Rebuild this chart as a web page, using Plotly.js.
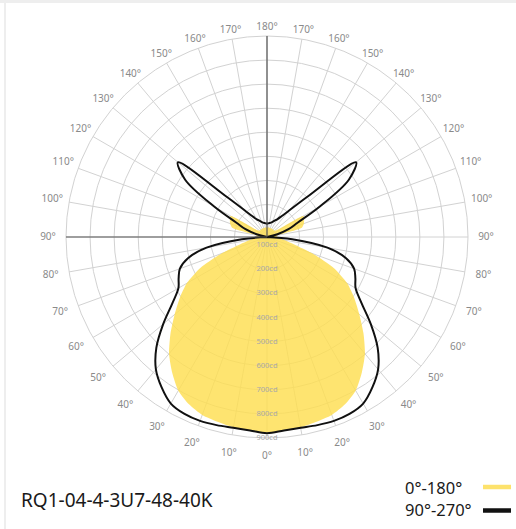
<!DOCTYPE html>
<html>
<head>
<meta charset="utf-8">
<script src="https://cdn.plot.ly/plotly-3.0.1.min.js"></script>
<style>
html,body{margin:0;padding:0;background:#fff;}
#chart{width:516px;height:529px;}
</style>
</head>
<body>
<div id="chart"></div>
<script>
// ---- data (gamma angle in degrees, luminous intensity in cd) ----
const gammaDeg = [0,5,10,15,20,25,30,35,40,45,50,55,60,65,70,75,80,85,90,95,100,105,110,115,120,125,130,135,140,145,150,155,160,165,170,175,180];
const cdPlane0_180 = [878,874,868,860,852,832,802,752,698,632,566,508,450,372,270,180,140,110,105,105,110,215,228,235,240,115,105,105,105,105,105,105,105,105,105,105,105];
const cdPlane90_270 = [880,872,870,874,878,876,864,828,783,715,628,545,490,470,450,405,320,170,60,20,60,110,160,205,320,480,548,300,210,170,150,140,132,127,124,122,120];

const seriesNames = ['0°-180°', '90°-270°'];
const seriesColors = ['#FDE26C', '#111111'];
const chartTitle = 'RQ1-04-4-3U7-48-40K';

const angleTickVals = [0,10,20,30,40,50,60,70,80,90,100,110,120,130,140,150,160,170,180,190,200,210,220,230,240,250,260,270,280,290,300,310,320,330,340,350];
const angleTickText = ['0°','10°','20°','30°','40°','50°','60°','70°','80°','90°','100°','110°','120°','130°','140°','150°','160°','170°','180°','170°','160°','150°','140°','130°','120°','110°','100°','90°','80°','70°','60°','50°','40°','30°','20°','10°'];
const radialTickVals = [100,200,300,400,500,600,700,800,900];
const radialTickText = ['100cd','200cd','300cd','400cd','500cd','600cd','700cd','800cd','900cd'];
const radialRange = [65, 900];

// mirror a half plane (gamma 0..180) onto both sides of the diagram
function mirrorTheta(g){ return g.concat(g.slice().reverse().map(v => 360 - v)); }
function mirrorR(v){ return v.concat(v.slice().reverse()); }

const W = 516, H = 529;
const cx = 267, cy = 237, R = 201, RL = 230;
const domFor = rad => ({x:[(cx-rad)/W,(cx+rad)/W], y:[(H-cy-rad)/H,(H-cy+rad)/H]});

// angular label placement in a pixel-scaled helper subplot (style only)
const labelPx = angleTickVals.map(t => {
  const p = t * Math.PI / 180;
  return 214.5 + 4.5 * Math.sin(p) * Math.sin(p) + 5 * Math.cos(p);
});

const traces = [
  {
    type:'scatterpolar', subplot:'polar', name:seriesNames[0], showlegend:false,
    theta: mirrorTheta(gammaDeg), r: mirrorR(cdPlane0_180),
    mode:'lines', fill:'toself', fillcolor:'rgba(254,222,80,0.82)',
    line:{width:0, color:'rgba(0,0,0,0)', shape:'spline', smoothing:0.6}, hoverinfo:'skip'
  },
  {
    type:'scatterpolar', subplot:'polar', name:seriesNames[1], showlegend:false,
    theta: mirrorTheta(gammaDeg), r: mirrorR(cdPlane90_270),
    mode:'lines', line:{width:2, color:seriesColors[1], shape:'spline', smoothing:1}, hoverinfo:'skip'
  },
  {
    type:'scatterpolar', subplot:'polar2', showlegend:false, mode:'text',
    r: radialTickVals, theta: radialTickVals.map(() => 0), text: radialTickText,
    textfont:{size:7.5, color:'#a8a8a8', family:'Noto Sans'}, textposition:'middle center', hoverinfo:'skip'
  },
  {
    type:'scatterpolar', subplot:'polar3', showlegend:false, mode:'text', cliponaxis:false,
    r: labelPx, theta: angleTickVals, text: angleTickText,
    textfont:{size:10, color:'#8a8a8a', family:'Noto Sans'}, textposition:'middle center', hoverinfo:'skip'
  }
];

const gridC = '#d2d2d2';
const hiddenAng = {visible:false, rotation:-90, direction:'counterclockwise'};
const layout = {
  width:W, height:H, margin:{l:0,r:0,t:0,b:0},
  paper_bgcolor:'#fff', font:{family:'Noto Sans', color:'#222'},
  showlegend:false,
  polar:{
    domain:domFor(R), bgcolor:'rgba(0,0,0,0)',
    angularaxis:{rotation:-90, direction:'counterclockwise', tickmode:'array', tickvals:angleTickVals, ticktext:angleTickText,
      showgrid:true, gridcolor:gridC, gridwidth:1, showline:true, linecolor:gridC, linewidth:1,
      ticks:'', showticklabels:false, layer:'above traces'},
    radialaxis:{range:radialRange, angle:90, tickmode:'array', tickvals:radialTickVals, ticktext:radialTickText,
      showticklabels:false, ticks:'', showgrid:true, gridcolor:gridC, gridwidth:1,
      showline:true, linecolor:'#555', linewidth:1.2, layer:'above traces'}
  },
  polar2:{
    domain:domFor(R), bgcolor:'rgba(0,0,0,0)',
    angularaxis:hiddenAng,
    radialaxis:{range:radialRange, angle:180, showline:true, linecolor:'#555', linewidth:1.2, showgrid:false, showticklabels:false, ticks:''}
  },
  polar3:{
    domain:domFor(RL), bgcolor:'rgba(0,0,0,0)',
    angularaxis:hiddenAng,
    radialaxis:{visible:false, range:[0, RL]}
  },
  annotations:[
    {xref:'paper', yref:'paper', x:19/W, y:(H-500)/H, xanchor:'left', yanchor:'middle', showarrow:false, text:chartTitle, font:{size:19, color:'#1a1a1a', family:'Noto Sans'}},
    {xref:'paper', yref:'paper', x:403/W, y:(H-487)/H, xanchor:'left', yanchor:'middle', showarrow:false, text:seriesNames[0], font:{size:16.5, color:'#1a1a1a', family:'Noto Sans'}},
    {xref:'paper', yref:'paper', x:403/W, y:(H-509)/H, xanchor:'left', yanchor:'middle', showarrow:false, text:seriesNames[1], font:{size:16.5, color:'#1a1a1a', family:'Noto Sans'}}
  ],
  shapes:[
    {type:'rect', xref:'paper', yref:'paper', x0:0, x1:1, y0:1-3/H, y1:1, fillcolor:'#eeeeee', line:{width:0}, layer:'below'},
    {type:'line', xref:'paper', yref:'paper', x0:5/W, x1:5/W, y0:0, y1:1-3/H, line:{color:'#eeeeee', width:2}, layer:'below'},
    // legend keys
    {type:'line', xref:'paper', yref:'paper', x0:483/W, x1:511/W, y0:(H-487)/H, y1:(H-487)/H, line:{color:seriesColors[0], width:4.5}},
    {type:'line', xref:'paper', yref:'paper', x0:483/W, x1:511/W, y0:(H-510.5)/H, y1:(H-510.5)/H, line:{color:seriesColors[1], width:4.5}}
  ]
};

Plotly.newPlot('chart', traces, layout, {displayModeBar:false, staticPlot:true});
</script>
</body>
</html>
